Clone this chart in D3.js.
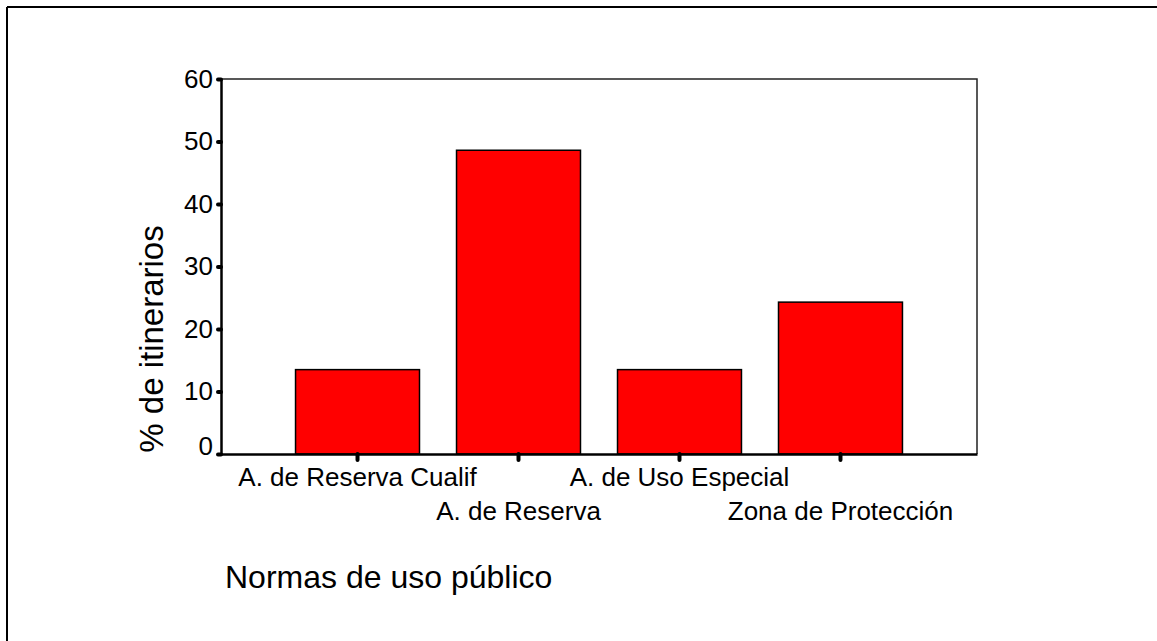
<html>
<head>
    <style>
        body { margin: 0; background: #fff; }
        text { font-family: Arial, "Liberation Sans", sans-serif; fill: #000; }
    </style>
</head>
<body>

    <script src="https://d3js.org/d3.v7.min.js"></script>

    <div id="my_dataviz"></div>

    <script>
        // data (5/37, 18/37, 5/37, 9/37 of the itineraries)
        var categories = ["A. de Reserva Cualif", "A. de Reserva", "A. de Uso Especial", "Zona de Protección"];
        var values = [13.5, 48.6, 13.5, 24.3];
        var yTicks = [0, 10, 20, 30, 40, 50, 60];

        var W = 1157, H = 641;
        var margin = { top: 79, right: 180, bottom: 187, left: 221 },
            width = W - margin.left - margin.right,
            height = H - margin.top - margin.bottom;

        var root = d3.select("#my_dataviz")
            .append("svg")
            .attr("width", W)
            .attr("height", H);

        // outer frame, only top and left edges show
        root.append("line")
            .attr("x1", 7).attr("y1", 7).attr("x2", W).attr("y2", 7)
            .attr("stroke", "#000").attr("stroke-width", 2);
        root.append("line")
            .attr("x1", 7).attr("y1", 7).attr("x2", 7).attr("y2", H)
            .attr("stroke", "#000").attr("stroke-width", 2);

        var svg = root.append("g")
            .attr("transform", "translate(" + margin.left + "," + margin.top + ")");

        var x = d3.scaleBand()
            .domain(categories)
            .range([0, width])
            .paddingInner(0.23)
            .paddingOuter(0.463);

        var y = d3.scaleLinear()
            .domain([0, 60])
            .range([height, 0]);

        // plot frame top + right
        svg.append("path")
            .attr("d", "M0,0H" + width + "V" + height)
            .attr("fill", "none")
            .attr("stroke", "#222")
            .attr("stroke-width", 1.5);

        // bars
        svg.selectAll("rect.bar")
            .data(values)
            .enter()
            .append("rect")
            .attr("class", "bar")
            .attr("x", function (d, i) { return x(categories[i]); })
            .attr("y", function (d) { return y(d); })
            .attr("width", x.bandwidth())
            .attr("height", function (d) { return height - y(d); })
            .attr("fill", "#ff0000")
            .attr("stroke", "#000")
            .attr("stroke-width", 1.5);

        // Y axis
        var yAxis = svg.append("g")
            .call(d3.axisLeft(y).tickValues(yTicks).tickSize(3).tickSizeOuter(0).tickPadding(5));
        yAxis.select(".domain").attr("stroke", "#000").attr("stroke-width", 2.5);
        yAxis.selectAll(".tick line")
            .attr("stroke", "#000").attr("stroke-width", 4).attr("stroke-linecap", "round");
        yAxis.selectAll(".tick text")
            .attr("font-size", 26)
            .attr("dy", function (d) { return d === 0 ? "0em" : "0.32em"; });

        // X axis
        var xAxis = svg.append("g")
            .attr("transform", "translate(0," + height + ")")
            .call(d3.axisBottom(x).tickSize(6).tickSizeOuter(0).tickPadding(0));
        xAxis.select(".domain").attr("stroke", "#000").attr("stroke-width", 2.5);
        xAxis.selectAll(".tick line")
            .attr("stroke", "#000").attr("stroke-width", 4).attr("stroke-linecap", "round");
        xAxis.selectAll(".tick text")
            .attr("font-size", 26)
            .attr("dy", null)
            .attr("y", function (d, i) { return i % 2 === 0 ? 32 : 66; });

        // axis titles
        root.append("text")
            .attr("transform", "translate(163," + 339 + ") rotate(-90)")
            .attr("text-anchor", "middle")
            .attr("font-size", 33)
            .text("% de itinerarios");

        root.append("text")
            .attr("x", 225)
            .attr("y", 588)
            .attr("font-size", 32)
            .text("Normas de uso público");
    </script>
</body>
</html>
